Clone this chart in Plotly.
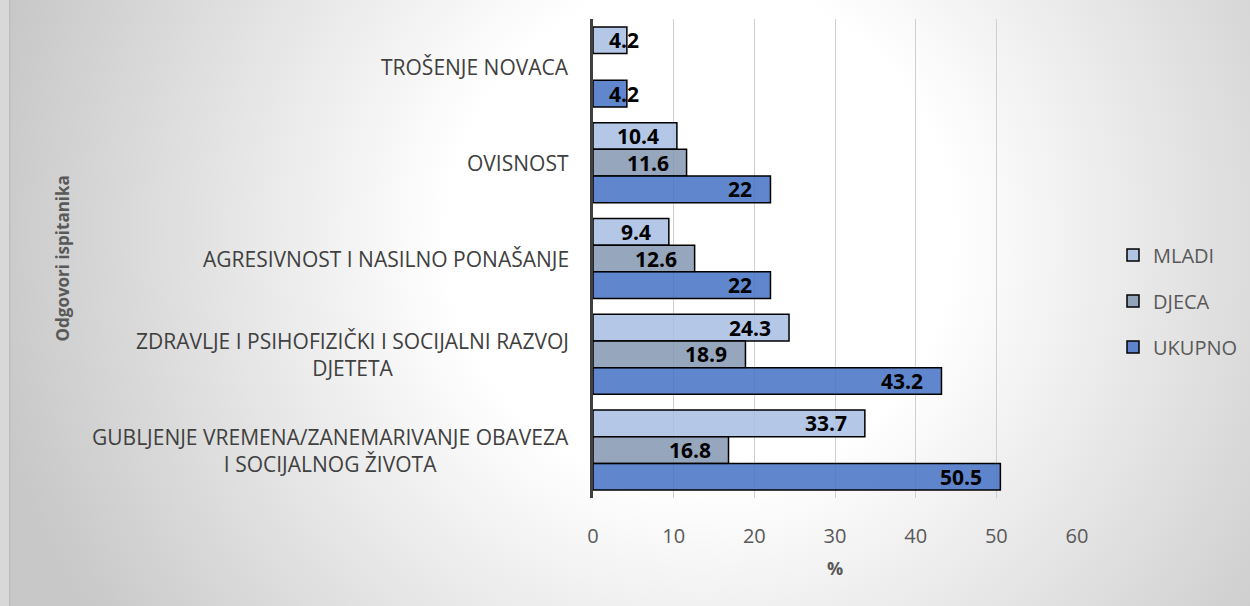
import base64
import plotly.graph_objects as go

categories = [
    "TROŠENJE NOVACA",
    "OVISNOST",
    "AGRESIVNOST I NASILNO PONAŠANJE",
    "ZDRAVLJE I PSIHOFIZIČKI I SOCIJALNI RAZVOJ<br>DJETETA",
    "GUBLJENJE VREMENA/ZANEMARIVANJE OBAVEZA<br>I SOCIJALNOG ŽIVOTA",
]
series_names = ["MLADI", "DJECA", "UKUPNO"]
mladi = [4.2, 10.4, 9.4, 24.3, 33.7]
djeca = [None, 11.6, 12.6, 18.9, 16.8]
ukupno = [4.2, 22, 22, 43.2, 50.5]
x_ticks = [0, 10, 20, 30, 40, 50, 60]

series_values = [mladi, djeca, ukupno]
fills = ["rgba(167,189,227,0.85)", "rgba(132,151,176,0.85)", "rgba(68,114,196,0.85)"]

W, H = 1250, 606
L, R, T, B = 593, 173, 19, 108
plot_w = W - L - R
plot_h = H - T - B

FONT = "Open Sans"

fig = go.Figure()
for i, (name, vals) in enumerate(zip(series_names, series_values)):
    fig.add_trace(go.Bar(
        y=categories, x=vals, name=name, orientation="h",
        marker=dict(color=fills[i], line=dict(color="#000000", width=1.5)),
        legendgroup=name, hoverinfo="x+name",
    ))

# background gradient image (SVG)
svg = '''<svg xmlns="http://www.w3.org/2000/svg" width="1241" height="606" viewBox="0 0 1241 606" preserveAspectRatio="none">
<defs><radialGradient id="g" gradientUnits="userSpaceOnUse" cx="691" cy="235" r="720">
<stop offset="0" stop-color="#ffffff"/><stop offset="0.35" stop-color="#ffffff"/><stop offset="1" stop-color="#c8c8c8"/>
</radialGradient></defs>
<rect x="0" y="0" width="1241" height="606" fill="url(#g)"/>
<rect x="0" y="0" width="1.5" height="606" fill="#bdbdbd"/>
</svg>'''
src = "data:image/svg+xml;base64," + base64.b64encode(svg.encode()).decode()
fig.add_layout_image(dict(
    source=src, xref="paper", yref="paper",
    x=(9 - L) / plot_w, y=(H - B) / plot_h,
    sizex=1241 / plot_w, sizey=606 / plot_h,
    xanchor="left", yanchor="top", sizing="stretch", layer="below",
))

band = plot_h / len(categories)
bargap = 0.165
bar_px = band * (1 - bargap) / 3
shifts = [bar_px, 0, -bar_px]

annotations = []
for i, vals in enumerate(series_values):
    for cat, v in zip(categories, vals):
        if v is None:
            continue
        txt = f"{v:g}"
        if v < 6:
            annotations.append(dict(x=0, y=cat, xref="x", yref="y", text=txt, showarrow=False,
                                    xanchor="left", xshift=14, yshift=shifts[i],
                                    font=dict(family=FONT, size=21, color="#000000", weight="bold")))
        else:
            annotations.append(dict(x=v, y=cat, xref="x", yref="y", text=txt, showarrow=False,
                                    xanchor="right", xshift=-16, yshift=shifts[i],
                                    font=dict(family=FONT, size=21, color="#000000", weight="bold")))

for cat in categories:
    annotations.append(dict(x=0, y=cat, xref="paper", yref="y", text=cat, showarrow=False,
                            xanchor="right", xshift=-22, align="center",
                            font=dict(family=FONT, size=21, color="#404040")))

annotations.append(dict(x=(62 - L) / plot_w, y=0.5, xref="paper", yref="paper",
                        text="Odgovori ispitanika", textangle=-90, showarrow=False,
                        xanchor="center", yanchor="middle",
                        font=dict(family=FONT, size=17, color="#595959", weight="bold")))

fig.update_layout(
    width=W, height=H,
    margin=dict(l=L, r=R, t=T, b=B, pad=0, autoexpand=False),
    paper_bgcolor="#d8d8d8", plot_bgcolor="rgba(0,0,0,0)",
    barmode="group", bargap=bargap, bargroupgap=0,
    font=dict(family=FONT, color="#595959"),
    annotations=annotations,
    legend=dict(x=(1113 - L) / plot_w, y=(H - B - 301) / plot_h, xanchor="left", yanchor="middle",
                bgcolor="rgba(0,0,0,0)", font=dict(family=FONT, size=20, color="#595959"),
                tracegroupgap=17, traceorder="grouped"),
    xaxis=dict(range=[0, 60], tickvals=x_ticks, showgrid=True, gridcolor="#cfcfcf", gridwidth=1,
               zeroline=False, showline=False, ticks="outside", ticklen=20, tickcolor="rgba(0,0,0,0)",
               tickfont=dict(family=FONT, size=20, color="#595959"),
               title=dict(text="%", font=dict(family=FONT, size=18, color="#595959", weight="bold"), standoff=14),
               fixedrange=True),
    yaxis=dict(autorange="reversed", showticklabels=False, showgrid=False, zeroline=False,
               showline=True, linecolor="#404040", linewidth=3, fixedrange=True),
)

fig.write_html("out.html", config={"displayModeBar": False},
               post_script="document.body.style.margin='0';")
